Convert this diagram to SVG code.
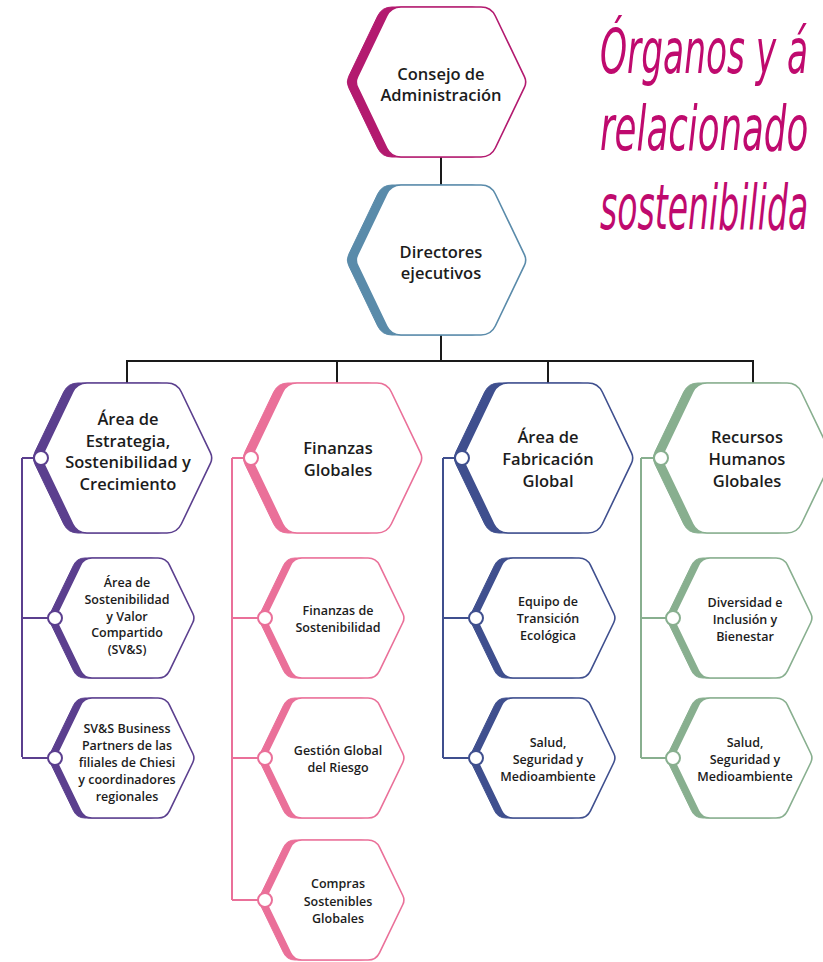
<svg xmlns="http://www.w3.org/2000/svg" xmlns:xlink="http://www.w3.org/1999/xlink" width="823" height="962" viewBox="0 0 823 962">
<style>
  .t { font-family: "Open Sans", "Liberation Sans", sans-serif; font-weight: 600; fill: #1c1c1c; text-anchor: middle; }
  .big { font-size: 16.5px; }
  .sm { font-size: 12.5px; }
  .title { font-family: "DejaVu Sans Condensed", "DejaVu Sans", sans-serif; font-style: italic; font-size: 62px; fill: #BF0A6E; }
  .main { stroke: #1a1a1a; stroke-width: 2; fill: none; }
  .br { stroke-width: 2; fill: none; }
  .white { fill: #ffffff; stroke-width: 1.6; }
  .dot { fill: #ffffff; stroke-width: 2; }
  .mag { fill: #B31A6F; stroke: #B31A6F; }
  .blu { fill: #5A8BAA; stroke: #5A8BAA; }
  .pur { fill: #5B3F8E; stroke: #5B3F8E; }
  .pnk { fill: #EA7099; stroke: #EA7099; }
  .nav { fill: #3F4F8E; stroke: #3F4F8E; }
  .grn { fill: #88AF8F; stroke: #88AF8F; }
  .smag { stroke: #B31A6F; } .sblu { stroke: #5A8BAA; } .spur { stroke: #5B3F8E; }
  .spnk { stroke: #EA7099; } .snav { stroke: #3F4F8E; } .sgrn { stroke: #88AF8F; }
</style>
<defs>
  <path id="hexL" d="M -83.4,-5.4 L -54.33,-65.99 Q -50,-75 -40,-75 L 40,-75 Q 50,-75 54.33,-65.99 L 83.4,-5.4 Q 86,0 83.4,5.4 L 54.33,65.99 Q 50,75 40,75 L -40,75 Q -50,75 -54.33,65.99 L -83.4,5.4 Q -86,0 -83.4,-5.4 Z"/>
  <path id="hexS" d="M -67.82,-4.5 L -44.48,-52.79 Q -41,-60 -33,-60 L 33,-60 Q 41,-60 44.48,-52.79 L 67.82,-4.5 Q 70,0 67.82,4.5 L 44.48,52.79 Q 41,60 33,60 L -33,60 Q -41,60 -44.48,52.79 L -67.82,4.5 Q -70,0 -67.82,-4.5 Z"/>
</defs>

<g id="title">
  <text class="title" transform="translate(600,73) scale(0.6,1)" x="0" y="0" textLength="347" lengthAdjust="spacingAndGlyphs">Órganos y á</text>
  <text class="title" transform="translate(600,150) scale(0.6,1)" x="0" y="0" textLength="347" lengthAdjust="spacingAndGlyphs">relacionado</text>
  <text class="title" transform="translate(600,229) scale(0.6,1)" x="0" y="0" textLength="347" lengthAdjust="spacingAndGlyphs">sostenibilida</text>
</g>

<g id="connectors">
  <path class="main" d="M441,157 V185 M441,335 V361 M126,361 H754 M127,361 V383 M337,361 V383 M548,361 V383 M753,361 V383"/>
  <path class="br spur" d="M22,458 V757 M22,458 H34 M22,618 H48 M22,758 H48"/>
  <path class="br spnk" d="M232,458 V900 M232,458 H244 M232,618 H258 M232,758 H258 M232,900 H258"/>
  <path class="br snav" d="M443,458 V758 M443,458 H455 M443,618 H469 M443,758 H469"/>
  <path class="br sgrn" d="M641,458 V758 M641,458 H654 M641,618 H668 M641,758 H668"/>
</g>

<g id="consejo">
  <use href="#hexL" x="432" y="82" class="mag"/>
  <use href="#hexL" x="441" y="82" class="white smag"/>
  <text class="t big" x="441" y="80">Consejo de</text>
  <text class="t big" x="441" y="101">Administración</text>
</g>

<g id="directores">
  <use href="#hexL" x="432" y="260" class="blu"/>
  <use href="#hexL" x="441" y="260" class="white sblu"/>
  <text class="t big" x="441" y="258">Directores</text>
  <text class="t big" x="441" y="279">ejecutivos</text>
</g>

<g id="estrategia">
  <use href="#hexL" x="118" y="458" class="pur"/>
  <use href="#hexL" x="127" y="458" class="white spur"/>
  <circle class="dot spur" cx="41" cy="458" r="7"/>
  <text class="t big" x="128" y="425">Área de</text>
  <text class="t big" x="128" y="446.5">Estrategia,</text>
  <text class="t big" x="128" y="468">Sostenibilidad y</text>
  <text class="t big" x="128" y="489.5">Crecimiento</text>
</g>

<g id="sostenibilidad-valor">
  <use href="#hexS" x="118" y="618" class="pur"/>
  <use href="#hexS" x="125" y="618" class="white spur"/>
  <circle class="dot spur" cx="55" cy="618" r="7"/>
  <text class="t sm" x="127" y="587">Área de</text>
  <text class="t sm" x="127" y="603.8">Sostenibilidad</text>
  <text class="t sm" x="127" y="620.6">y Valor</text>
  <text class="t sm" x="127" y="637.4">Compartido</text>
  <text class="t sm" x="127" y="654.2">(SV&amp;S)</text>
</g>

<g id="business-partners">
  <use href="#hexS" x="118" y="758" class="pur"/>
  <use href="#hexS" x="125" y="758" class="white spur"/>
  <circle class="dot spur" cx="55" cy="758" r="7"/>
  <text class="t sm" x="127" y="733">SV&amp;S Business</text>
  <text class="t sm" x="127" y="750">Partners de las</text>
  <text class="t sm" x="127" y="767">filiales de Chiesi</text>
  <text class="t sm" x="127" y="784">y coordinadores</text>
  <text class="t sm" x="127" y="801">regionales</text>
</g>

<g id="finanzas">
  <use href="#hexL" x="328" y="458" class="pnk"/>
  <use href="#hexL" x="337" y="458" class="white spnk"/>
  <circle class="dot spnk" cx="251" cy="458" r="7"/>
  <text class="t big" x="338" y="454">Finanzas</text>
  <text class="t big" x="338" y="476">Globales</text>
</g>

<g id="finanzas-sostenibilidad">
  <use href="#hexS" x="328" y="618" class="pnk"/>
  <use href="#hexS" x="335" y="618" class="white spnk"/>
  <circle class="dot spnk" cx="265" cy="618" r="7"/>
  <text class="t sm" x="338" y="615">Finanzas de</text>
  <text class="t sm" x="338" y="632">Sostenibilidad</text>
</g>

<g id="riesgo">
  <use href="#hexS" x="328" y="758" class="pnk"/>
  <use href="#hexS" x="335" y="758" class="white spnk"/>
  <circle class="dot spnk" cx="265" cy="758" r="7"/>
  <text class="t sm" x="338" y="755">Gestión Global</text>
  <text class="t sm" x="338" y="772">del Riesgo</text>
</g>

<g id="compras">
  <use href="#hexS" x="328" y="900" class="pnk"/>
  <use href="#hexS" x="335" y="900" class="white spnk"/>
  <circle class="dot spnk" cx="265" cy="900" r="7"/>
  <text class="t sm" x="338" y="888">Compras</text>
  <text class="t sm" x="338" y="905.5">Sostenibles</text>
  <text class="t sm" x="338" y="923">Globales</text>
</g>

<g id="fabricacion">
  <use href="#hexL" x="539" y="458" class="nav"/>
  <use href="#hexL" x="548" y="458" class="white snav"/>
  <circle class="dot snav" cx="462" cy="458" r="7"/>
  <text class="t big" x="548" y="443">Área de</text>
  <text class="t big" x="548" y="465">Fabricación</text>
  <text class="t big" x="548" y="487">Global</text>
</g>

<g id="transicion">
  <use href="#hexS" x="539" y="618" class="nav"/>
  <use href="#hexS" x="546" y="618" class="white snav"/>
  <circle class="dot snav" cx="476" cy="618" r="7"/>
  <text class="t sm" x="548" y="606">Equipo de</text>
  <text class="t sm" x="548" y="623">Transición</text>
  <text class="t sm" x="548" y="640">Ecológica</text>
</g>

<g id="salud-fabricacion">
  <use href="#hexS" x="539" y="758" class="nav"/>
  <use href="#hexS" x="546" y="758" class="white snav"/>
  <circle class="dot snav" cx="476" cy="758" r="7"/>
  <text class="t sm" x="548" y="747">Salud,</text>
  <text class="t sm" x="548" y="764">Seguridad y</text>
  <text class="t sm" x="548" y="781">Medioambiente</text>
</g>

<g id="rrhh">
  <use href="#hexL" x="738" y="458" class="grn"/>
  <use href="#hexL" x="747" y="458" class="white sgrn"/>
  <circle class="dot sgrn" cx="661" cy="458" r="7"/>
  <text class="t big" x="747" y="443">Recursos</text>
  <text class="t big" x="747" y="465">Humanos</text>
  <text class="t big" x="747" y="487">Globales</text>
</g>

<g id="diversidad">
  <use href="#hexS" x="736" y="618" class="grn"/>
  <use href="#hexS" x="743" y="618" class="white sgrn"/>
  <circle class="dot sgrn" cx="673" cy="618" r="7"/>
  <text class="t sm" x="745" y="607">Diversidad e</text>
  <text class="t sm" x="745" y="624">Inclusión y</text>
  <text class="t sm" x="745" y="641">Bienestar</text>
</g>

<g id="salud-rrhh">
  <use href="#hexS" x="736" y="758" class="grn"/>
  <use href="#hexS" x="743" y="758" class="white sgrn"/>
  <circle class="dot sgrn" cx="673" cy="758" r="7"/>
  <text class="t sm" x="745" y="747">Salud,</text>
  <text class="t sm" x="745" y="764">Seguridad y</text>
  <text class="t sm" x="745" y="781">Medioambiente</text>
</g>
</svg>
